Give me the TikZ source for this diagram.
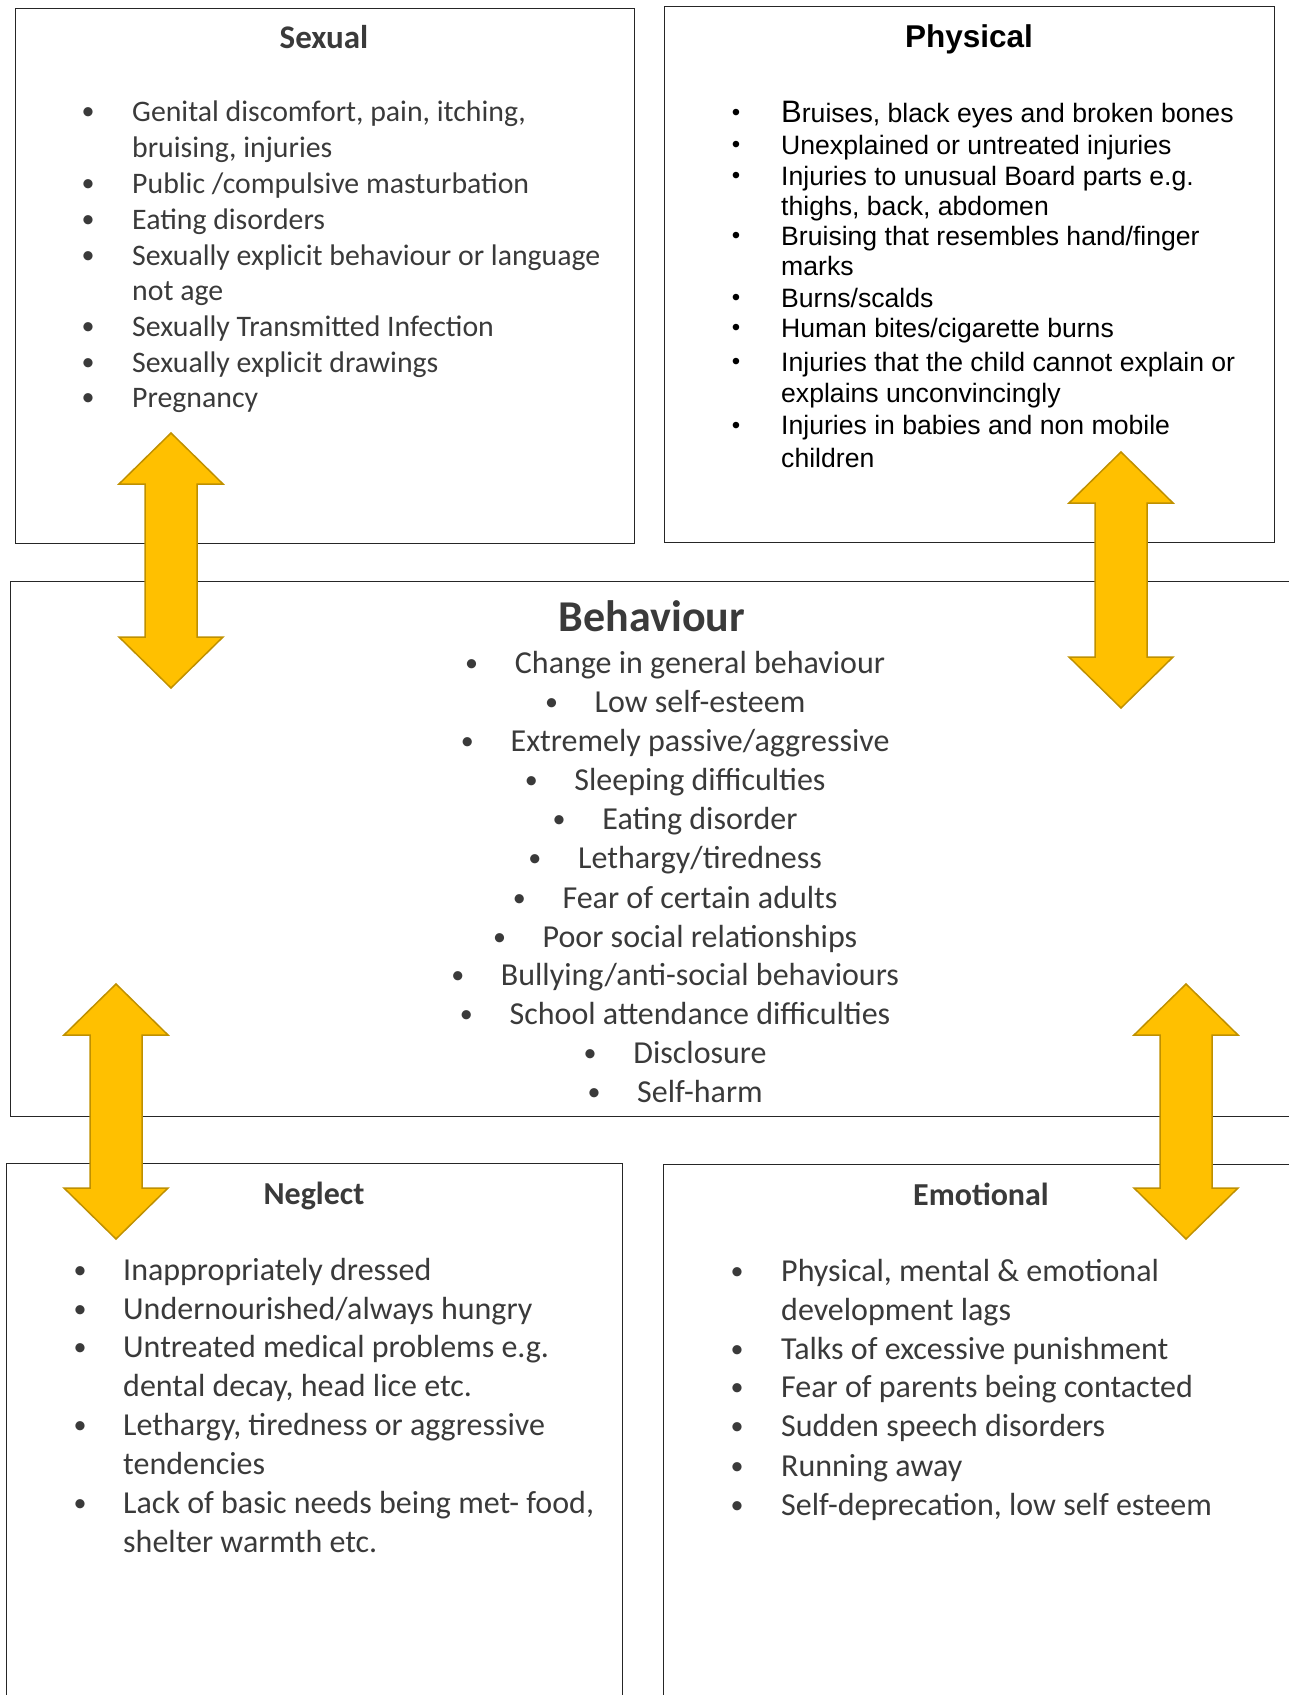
\documentclass[tikz,border=0pt]{standalone}
\usepackage{fontspec}
\setmainfont{Carlito}
\newfontfamily\arialfont{Liberation Sans}
\definecolor{arrowyellow}{HTML}{FFC000}
\definecolor{arrowedge}{HTML}{BF9000}
\definecolor{txtgray}{HTML}{3A3A3A}
\tikzset{
  box/.style={draw=black!85, line width=1.4pt, anchor=north west, inner sep=0pt},
  arrowfill/.style={fill=arrowyellow, draw=arrowedge, line width=1.5pt, line join=miter},
  ttl/.style={anchor=base, inner sep=0pt, text=txtgray, font=\fontsize{32}{38}\selectfont\bfseries},
  bul/.style={anchor=base, inner sep=0pt, text=txtgray, font=\fontsize{26}{30}\selectfont},
  sxtxt/.style={anchor=base west, inner sep=0pt, text=txtgray, font=\fontsize{29.8}{35}\selectfont},
  phtxt/.style={anchor=base west, inner sep=0pt, text=black, font=\arialfont\fontsize{26.6}{31}\selectfont},
  bhtxt/.style={anchor=base, inner sep=0pt, text=txtgray, font=\fontsize{32}{39}\selectfont},
  nttxt/.style={anchor=base west, inner sep=0pt, text=txtgray, font=\fontsize{32}{39}\selectfont},
}
\newcommand{\bult}{\raisebox{1.8pt}{\textbullet}}
% double headed block arrow from top tip #1 to bottom tip #2
\newcommand{\blockarrow}[2]{%
  \draw[arrowfill] (#1) -- ++(52,51) -- ++(-26,0) -- ([shift={(26,-51)}]#2) -- ++(26,0) -- (#2)
    -- ++(-52,-51) -- ++(26,0) -- ([shift={(-26,51)}]#1) -- ++(-26,0) -- cycle;}
\begin{document}
\begin{tikzpicture}[x=1pt,y=-1pt]
  \useasboundingbox (0,0) rectangle (1289,1695);

  % the five boxes
  \node[box, minimum width=619, minimum height=535] (sexual)    at (15,8)     {};
  \node[box, minimum width=610, minimum height=536] (physical)  at (664,6)    {};
  \node[box, minimum width=1290, minimum height=535] (behaviour) at (10,581)  {};
  \node[box, minimum width=616, minimum height=547] (neglect)   at (6,1163)   {};
  \node[box, minimum width=637, minimum height=546] (emotional) at (663,1164) {};

  % Sexual
  \node[ttl, font=\fontsize{33}{38}\selectfont\bfseries] (sexualT) at (324,48) {Sexual};
  \foreach \y [count=\i] in {121,193,229,265,336,372,407}
    \node[bul] (sxb\i) at (88,\y) {\bult};
  \foreach \y/\txt [count=\i] in {121/{Genital discomfort, pain, itching,}, 157/{bruising, injuries},
      193/{Public /compulsive masturbation}, 229/{Eating disorders},
      265/{Sexually explicit behaviour or language}, 300/{not age},
      336/{Sexually Transmitted Infection}, 372/{Sexually explicit drawings}, 407/{Pregnancy}}
    \node[sxtxt] (sx\i) at (132,\y) {\txt};

  % Physical
  \node[ttl, text=black, font=\arialfont\fontsize{31.5}{36}\selectfont\bfseries] (physicalT) at (969,47) {Physical};
  \foreach \y [count=\i] in {122,154,185,245,307,337,371,434.5}
    \node[bul, text=black, font=\arialfont\fontsize{24}{28}\selectfont] (phb\i) at (736,\y) {\raisebox{1.5pt}{\textbullet}};
  \foreach \y/\txt [count=\i] in {122/{{\fontsize{31}{36}\selectfont B}ruises, black eyes and broken bones},
      154/{Unexplained or untreated injuries}, 185/{Injuries to unusual Board parts e.g.},
      215/{thighs, back, abdomen}, 245/{Bruising that resembles hand/finger}, 275.5/{marks},
      307/{Burns/scalds}, 337/{Human bites/cigarette burns},
      371/{Injuries that the child cannot explain or}, 402/{explains unconvincingly},
      434.5/{Injuries in babies and non mobile}, 467/{children}}
    \node[phtxt] (ph\i) at (781,\y) {\txt};

  % Behaviour
  \node[ttl, font=\fontsize{44}{50}\selectfont\bfseries] (behaviourT) at (652,631) {Behaviour};
  \foreach \y/\txt [count=\i] in {673/{Change in general behaviour}, 712/{Low self-esteem},
      751/{Extremely passive/aggressive}, 790/{Sleeping difficulties}, 829/{Eating disorder},
      868/{Lethargy/tiredness}, 908/{Fear of certain adults}, 947/{Poor social relationships},
      985/{Bullying/anti-social behaviours}, 1024/{School attendance difficulties},
      1063/{Disclosure}, 1102/{Self-harm}} {
    \node[bhtxt] (bh\i) at (700,\y) {\txt};
    \node[bul] (bhb\i) at ([xshift=-43]bh\i.base west) {\bult};
  }

  % Neglect
  \node[ttl] (neglectT) at (314,1204) {Neglect};
  \foreach \y [count=\i] in {1280,1319,1357,1435,1513}
    \node[bul] (ntb\i) at (80,\y) {\bult};
  \foreach \y/\txt [count=\i] in {1280/{Inappropriately dressed}, 1319/{Undernourished/always hungry},
      1357/{Untreated medical problems e.g.}, 1396/{dental decay, head lice etc.},
      1435/{Lethargy, tiredness or aggressive}, 1474/{tendencies},
      1513/{Lack of basic needs being met- food,}, 1552/{shelter warmth etc.}}
    \node[nttxt] (nt\i) at (123,\y) {\txt};

  % Emotional
  \node[ttl] (emotionalT) at (981,1205) {Emotional};
  \foreach \y [count=\i] in {1281,1359,1397,1436,1476,1515}
    \node[bul] (emb\i) at (737,\y) {\bult};
  \foreach \y/\txt [count=\i] in {1281/{Physical, mental \& emotional}, 1320/{development lags},
      1359/{Talks of excessive punishment}, 1397/{Fear of parents being contacted},
      1436/{Sudden speech disorders}, 1476/{Running away}, 1515/{Self-deprecation, low self esteem}}
    \node[nttxt] (em\i) at (781,\y) {\txt};

  % arrows between the boxes
  \coordinate (a1t) at (171,433);  \coordinate (a1b) at (171,688);
  \coordinate (a2t) at (1121,452); \coordinate (a2b) at (1121,708);
  \coordinate (a3t) at (116,984);  \coordinate (a3b) at (116,1239);
  \coordinate (a4t) at (1186,984); \coordinate (a4b) at (1186,1239);
  \blockarrow{a1t}{a1b}
  \blockarrow{a2t}{a2b}
  \blockarrow{a3t}{a3b}
  \blockarrow{a4t}{a4b}
\end{tikzpicture}
\end{document}
